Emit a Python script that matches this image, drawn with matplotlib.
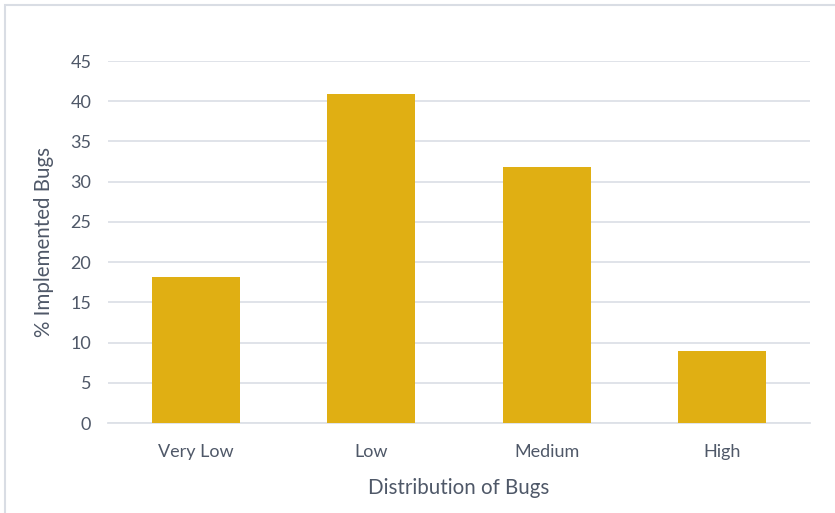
import matplotlib
matplotlib.use("Agg")
import matplotlib.pyplot as plt
from matplotlib.patches import Rectangle

categories = ["Very Low", "Low", "Medium", "High"]
values = [18.1, 40.9, 31.8, 9.0]
yticks = [0, 5, 10, 15, 20, 25, 30, 35, 40, 45]

text_color = "#4f5868"
grid_color = "#dde1e7"
bar_color = "#e0af13"

plt.rcParams['font.family'] = ['Lato', 'DejaVu Sans']

fig = plt.figure(figsize=(8.35, 5.13), dpi=100)
ax = fig.add_axes([108/835, 1 - 423/513, (810-108)/835, (423-61)/513])

x = list(range(len(categories)))
ax.bar(x, values, width=0.5, color=bar_color, zorder=3)
ax.set_xlim(-0.5, len(categories) - 0.5)
ax.set_ylim(0, 45)
ax.set_yticks(yticks)
ax.set_xticks(x)
ax.set_xticklabels(categories)
ax.grid(axis='y', color=grid_color, linewidth=1.3, zorder=0)
ax.tick_params(axis='both', length=0, labelsize=13, colors=text_color)
ax.tick_params(axis='y', pad=12)
ax.tick_params(axis='x', pad=15)
for s in ['top', 'right', 'left']:
    ax.spines[s].set_visible(False)
ax.spines['bottom'].set_color(grid_color)
ax.spines['bottom'].set_linewidth(1.3)

ax.set_xlabel("Distribution of Bugs", fontsize=14.8, color=text_color, labelpad=13)
ax.set_ylabel("% Implemented Bugs", fontsize=14.8, color=text_color, labelpad=12)

fig.patches.append(Rectangle((5/835, -0.1), 1.2, 1 - 5/513 + 0.1, transform=fig.transFigure,
                             fill=False, edgecolor="#d9dde4", linewidth=1.5))

fig.savefig("out.png", dpi=100)
